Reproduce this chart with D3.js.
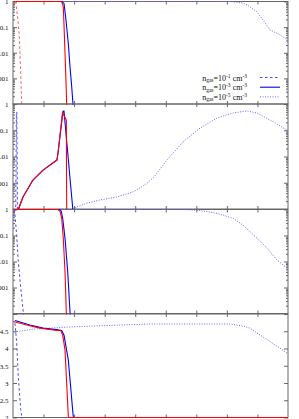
<!DOCTYPE html>
<meta charset="utf-8">
<html><head>
<style>
body { margin: 0; background: #fff; }
text { font-family: "Liberation Serif", "DejaVu Serif", serif; font-size: 7px; fill: #111; }
.frame { fill: none; stroke: #666; stroke-width: 1; }
.tick line { stroke: #666; }
.line { fill: none; stroke-linejoin: round; }
.red { stroke: #f00; stroke-width: 1.1; }
.blue { stroke: #00f; stroke-width: 1.1; }
.redDashed { stroke: #f55; stroke-width: 1; stroke-dasharray: 2.5,2.5; }
.blueDashed { stroke: #44f; stroke-width: 1; stroke-dasharray: 2.5,2.5; }
.blueDotted { stroke: #66f; stroke-width: 1; stroke-dasharray: 1,1.5; }
</style>
</head>
<body>
<svg width="299" height="419"></svg>
<script src="https://d3js.org/d3.v7.min.js"></script>
<script>

// x in tick units (frame spans 0..9), y
var p1Dotted = [[0.03,1],[7.1,1],[7.5,0.88],[7.66,0.74],[7.98,0.40],[8.25,0.146],[8.41,0.078],[8.74,0.050],[8.97,0.032],[9,0.031]];
var p1RedDashed = [[0.088,1],[0.141,0.30],[0.206,0.05],[0.285,1e-4],[0.3,5e-5]];
var p1Blue = [[0.03,1],[1.594,1],[1.669,0.85],[1.734,0.19],[1.81,0.023],[1.865,0.0029],[1.921,4.8e-4],[1.954,1.4e-4],[1.97,8e-5]];
var p1Red = [[0.03,1],[1.57,1],[1.6,0.95],[1.646,0.63],[1.672,0.1],[1.702,0.01],[1.731,0.001],[1.757,1e-4],[1.77,5e-5]];

var p2Dotted = [[1.954,1e-4],[2.0,1.09e-4],[2.412,1.66e-4],[2.847,2.21e-4],[3.393,2.85e-4],[3.927,4.46e-4],[4.3,8.1e-4],[4.6,1.57e-3],[5.039,7.4e-3],[5.563,0.036],[6.119,0.12],[6.675,0.29],[7.199,0.456],[7.657,0.543],[7.984,0.456],[8.41,0.245],[8.966,0.103],[9,0.0995]];
var p2BlueDashed = [[0.07,5e-5],[0.09,1e-4],[0.11,0.49],[0.125,0.49],[0.145,1e-4],[0.16,5e-5]];
var p2Blue = [[0.18,1e-4],[0.327,2.85e-4],[0.654,1.27e-3],[0.982,3.04e-3],[1.44,7.4e-3],[1.473,0.0136],[1.636,0.525],[1.669,0.543],[1.734,0.077],[1.81,8.05e-3],[1.865,1.49e-3],[1.954,1.09e-4],[1.97,5e-5]];
var p2Red = [[0.18,1e-4],[0.327,2.85e-4],[0.654,1.27e-3],[0.982,3.04e-3],[1.44,7.4e-3],[1.473,0.0136],[1.62,0.468],[1.745,0.245],[1.757,1e-4],[1.76,5e-5]];

var p3Dotted = [[0.03,1],[5.6,1],[6.12,0.92],[6.675,0.71],[7.2,0.46],[7.53,0.25],[7.984,0.079],[8.312,0.033],[8.639,0.0115],[8.966,0.0056],[9,0.0054]];
var p3BlueDashed = [[0.05,1],[0.121,0.1],[0.173,0.01],[0.252,0.001],[0.337,1.1e-4],[0.35,5e-5]];
var p3Blue = [[0.03,1],[1.538,1],[1.58,0.85],[1.626,0.46],[1.702,0.079],[1.79,0.0041],[1.865,1.2e-4],[1.88,5e-5]];
var p3Red = [[0.03,1],[1.473,1],[1.54,0.85],[1.594,0.46],[1.646,0.078],[1.702,0.0041],[1.744,1.2e-4],[1.76,5e-5]];

var p4Dotted = [[0.06,4.45],[0.13,4.49],[0.654,4.56],[1.767,4.62],[2.847,4.66],[4.483,4.71],[7.1,4.71],[7.53,4.65],[7.755,4.59],[8.083,4.39],[8.41,4.20],[8.737,4.01],[8.966,3.87],[9,3.86]];
var p4BlueDashed = [[0.065,4.73],[0.121,4.16],[0.173,3.19],[0.252,2.23],[0.285,2.04],[0.3,1.9]];
var p4Blue = [[0.065,4.81],[0.556,4.68],[0.992,4.59],[1.48,4.54],[1.594,4.52],[1.669,4.39],[1.81,3.67],[1.97,2.04],[1.98,2],[9,2]];
var p4Red = [[0.01,4.78],[0.45,4.68],[0.884,4.59],[1.43,4.52],[1.56,4.52],[1.626,4.39],[1.702,3.96],[1.81,2.04],[1.83,2],[9,2]];

var logMajors = [1e-4, 1e-3, 1e-2, 1e-1, 1];
var logLabels = ["", "0.001", "0.01", "0.1", "1"];
var linMajors = [2, 2.5, 3, 3.5, 4, 4.5, 5];
var linLabels = ["2", "2.5", "3", "3.5", "4", "4.5", ""];
var xTicks = [1, 2, 3, 4, 5, 6, 7, 8];

var legendDens = ["-1", "-3", "-5"];
var legendCls = ["blueDashed", "blue", "blueDotted"];

var svg = d3.select("svg"),
    left = 13, right = 288;

var x = d3.scaleLinear().domain([0, 9]).range([left, right]);

var panels = [
  {top: 1.5, bottom: 104, log: true, domain: [1e-4, 1],
   series: [[p1Dotted, "blueDotted"], [p1Blue, "blue"], [p1Red, "red"], [p1RedDashed, "redDashed"]]},
  {top: 104, bottom: 209, log: true, domain: [1e-4, 1],
   series: [[p2Dotted, "blueDotted"], [p2BlueDashed, "blueDashed"], [p2Blue, "blue"], [p2Red, "red"]]},
  {top: 209.5, bottom: 313.5, log: true, domain: [1e-4, 1],
   series: [[p3Dotted, "blueDotted"], [p3BlueDashed, "blueDashed"], [p3Blue, "blue"], [p3Red, "red"]]},
  {top: 314, bottom: 417.5, log: false, domain: [2, 5],
   series: [[p4Dotted, "blueDotted"], [p4BlueDashed, "blueDashed"], [p4Blue, "blue"], [p4Red, "red"]]}
];

panels.forEach(function(p, i) {
  var y = (p.log ? d3.scaleLog() : d3.scaleLinear())
      .domain(p.domain).range([p.bottom, p.top]);

  svg.append("clipPath").attr("id", "clip" + i)
    .append("rect")
      .attr("x", left).attr("y", p.top - 1)
      .attr("width", right - left).attr("height", p.bottom - p.top + 2);

  var g = svg.append("g");

  g.append("rect").attr("class", "frame")
    .attr("x", left).attr("y", p.top)
    .attr("width", right - left).attr("height", p.bottom - p.top);

  // minor log ticks
  if (p.log) {
    var minors = [];
    for (var e = -4; e < 1; e++)
      for (var m = 2; m < 10; m++) {
        var v = m * Math.pow(10, e);
        if (v <= p.domain[1]) minors.push(v);
      }
    g.append("g").attr("transform", "translate(" + left + ",0)")
      .call(d3.axisLeft(y).tickValues(minors).tickSize(-2).tickFormat(""))
      .select(".domain").remove();
    g.append("g").attr("transform", "translate(" + right + ",0)")
      .call(d3.axisRight(y).tickValues(minors).tickSize(-2).tickFormat(""))
      .select(".domain").remove();
  }

  var majors = p.log ? logMajors : linMajors,
      labels = p.log ? logLabels : linLabels;

  g.append("g").attr("transform", "translate(" + left + ",0)")
    .call(d3.axisLeft(y).tickValues(majors).tickSize(-4).tickPadding(4.5)
      .tickFormat(function(d, j) { return labels[j]; }))
    .call(function(a) {
      a.select(".domain").remove();
      a.selectAll("text").attr("font-size", null).attr("font-family", null);
    });

  g.append("g").attr("transform", "translate(" + right + ",0)")
    .call(d3.axisRight(y).tickValues(majors).tickSize(-4).tickFormat(""))
    .select(".domain").remove();

  g.append("g").attr("transform", "translate(0," + p.bottom + ")")
    .call(d3.axisBottom(x).tickValues(xTicks).tickSize(-3).tickFormat(""))
    .select(".domain").remove();
  g.append("g").attr("transform", "translate(0," + p.top + ")")
    .call(d3.axisTop(x).tickValues(xTicks).tickSize(-3).tickFormat(""))
    .select(".domain").remove();

  var line = d3.line()
      .x(function(d) { return x(d[0]); })
      .y(function(d) { return y(d[1]); });

  g.append("g").attr("clip-path", "url(#clip" + i + ")")
    .selectAll("path")
    .data(p.series)
    .enter().append("path")
      .attr("class", function(d) { return "line " + d[1]; })
      .attr("d", function(d) { return line(d[0]); });
});

// legend, top panel
var legend = svg.append("g");
legendDens.forEach(function(dens, i) {
  var ly = 77.5 + i * 9.7;
  var t = legend.append("text")
      .attr("x", 247).attr("y", ly + 3)
      .attr("text-anchor", "end")
      .style("font-size", "8px");
  t.append("tspan").text("n");
  t.append("tspan").attr("font-size", "5.5px").attr("dy", 1.5).text("gas");
  t.append("tspan").attr("dy", -1.5).text("=10");
  t.append("tspan").attr("font-size", "5.5px").attr("dy", -3).text(dens);
  t.append("tspan").attr("dy", 3).text(" cm");
  t.append("tspan").attr("font-size", "5.5px").attr("dy", -3).text("-3");
  legend.append("line")
      .attr("class", "line " + legendCls[i])
      .attr("x1", 260).attr("x2", 280)
      .attr("y1", ly).attr("y2", ly);
});

</script>
</body>
</html>
